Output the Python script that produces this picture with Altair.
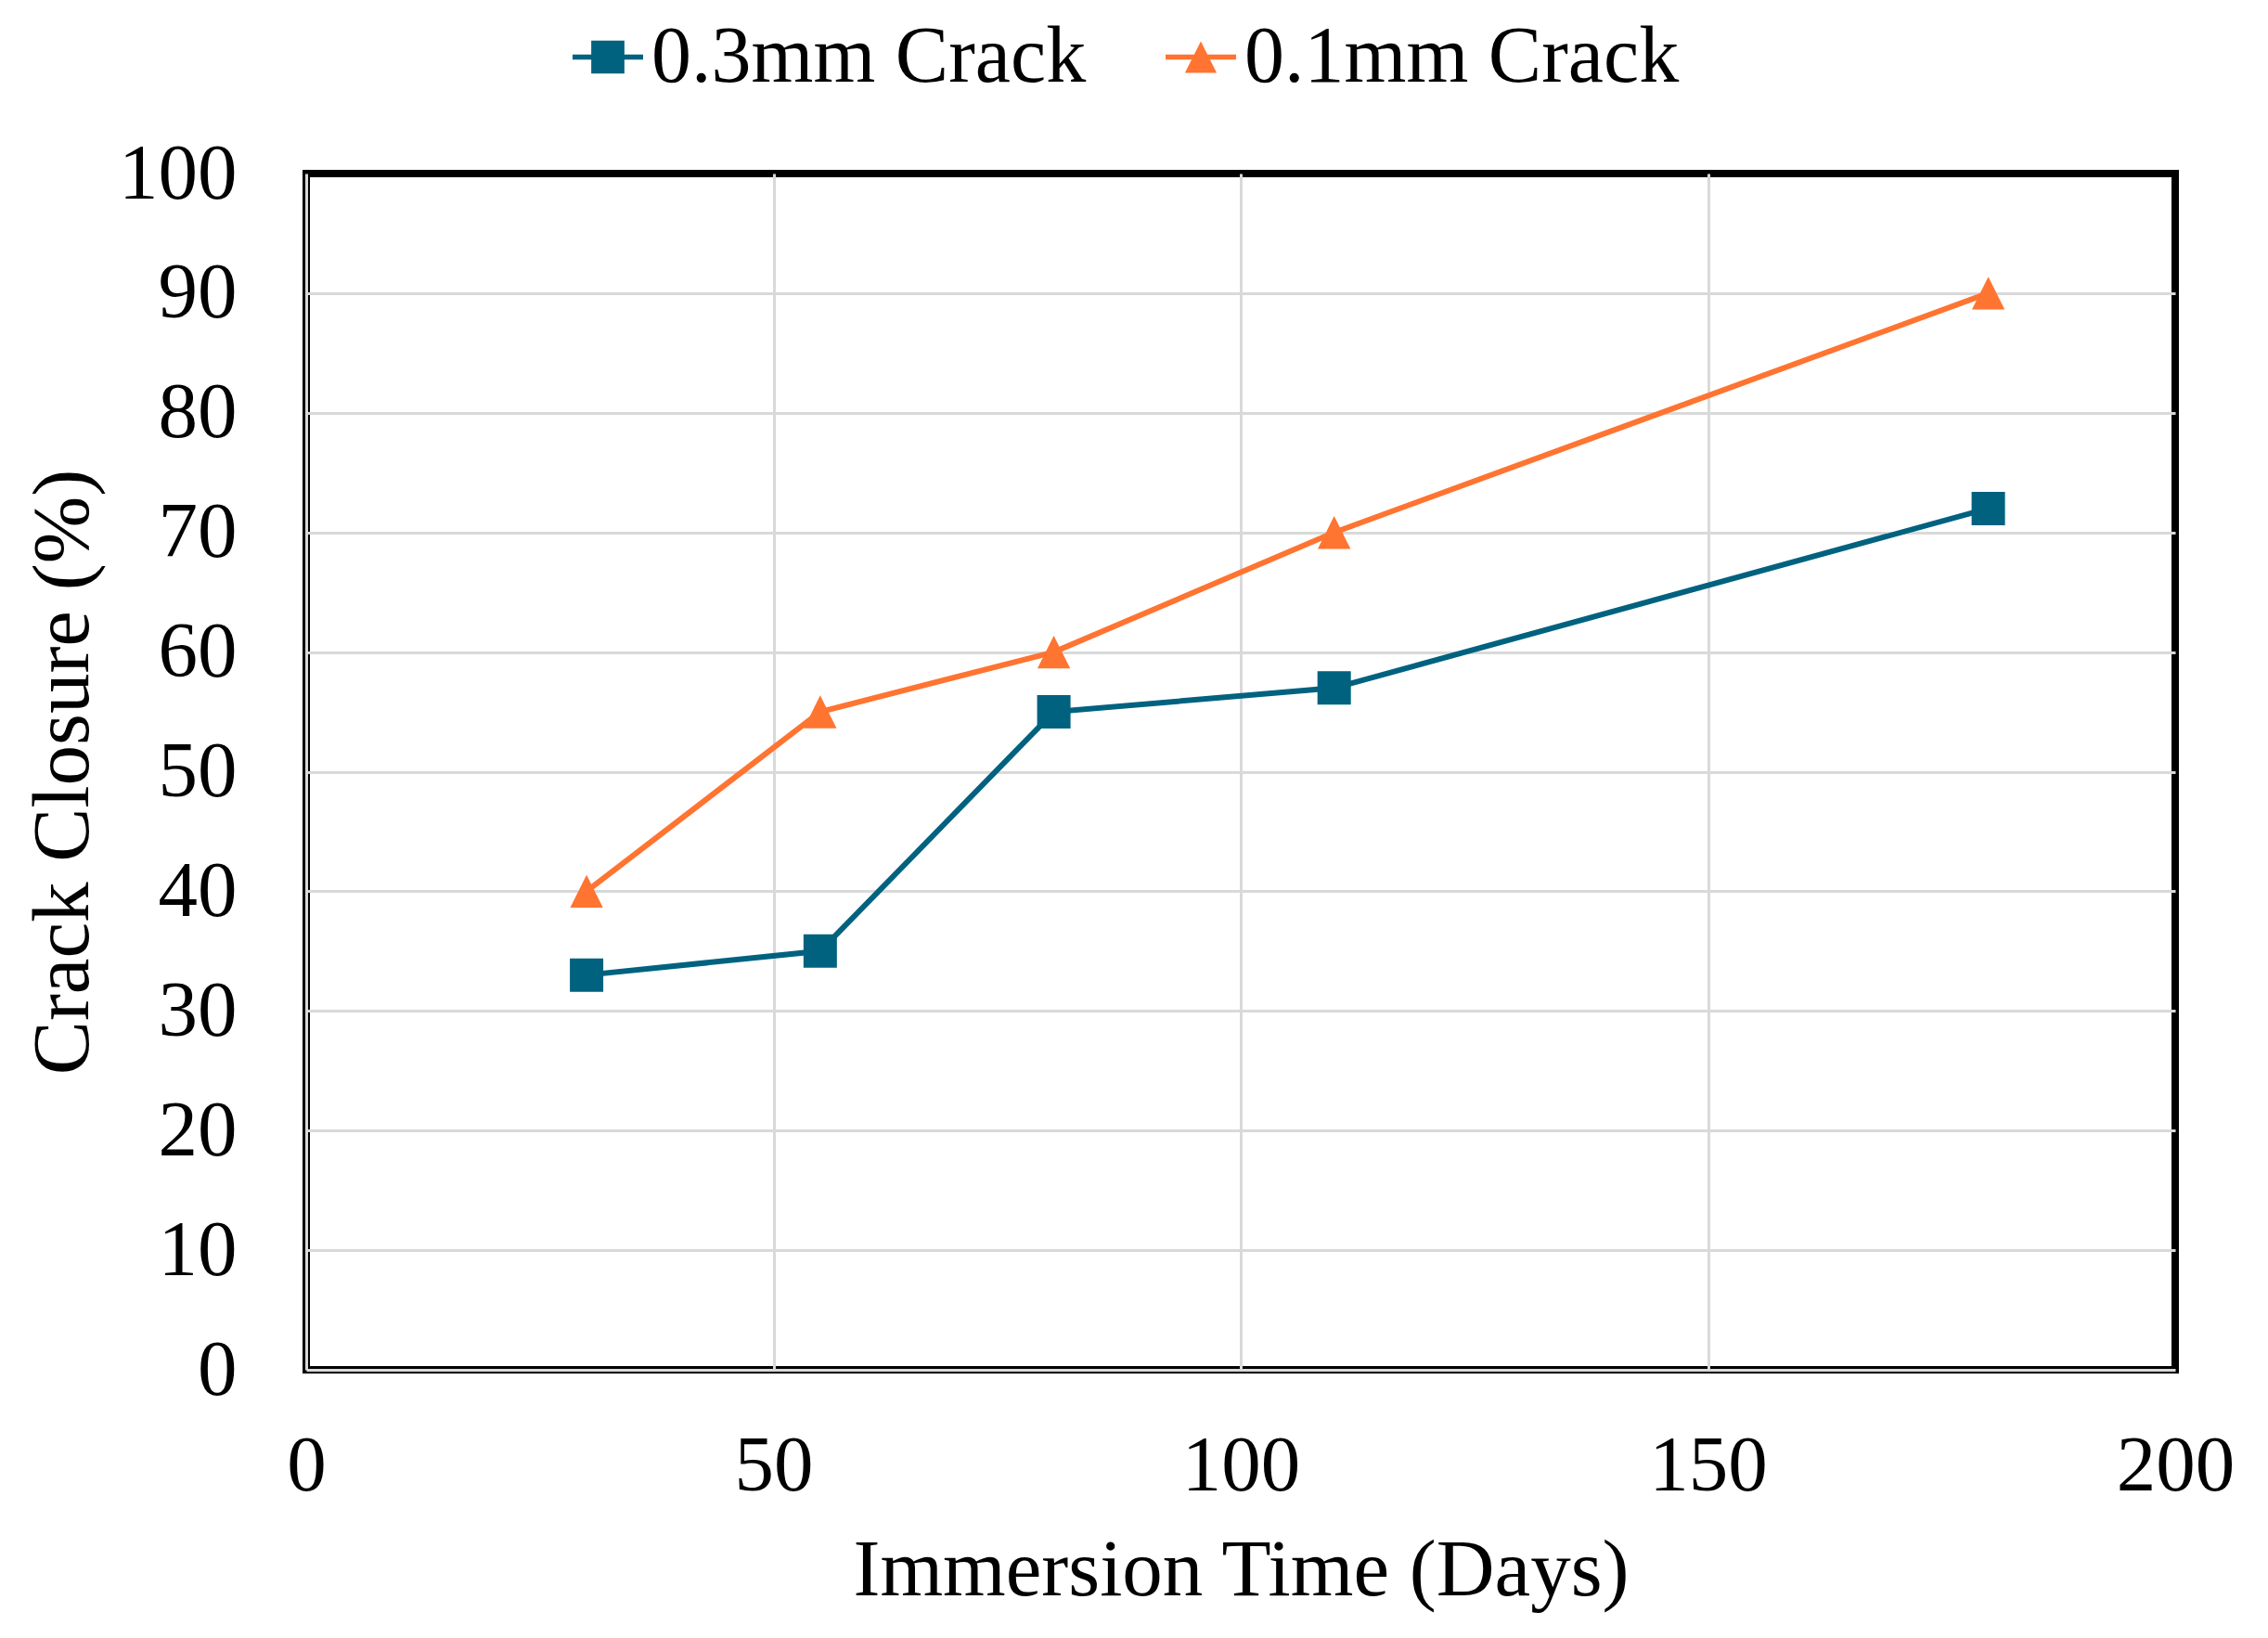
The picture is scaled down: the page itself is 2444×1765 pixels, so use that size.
import altair as alt
import pandas as pd

# ---- data ----
days = [30, 55, 80, 110, 180]
closure_03mm = [33, 35, 55, 57, 72]
closure_01mm = [40, 55, 60, 70, 90]
series_names = ["0.3mm Crack", "0.1mm Crack"]
series_colors = ["#00627F", "#FF7431"]
x_ticks = [0, 50, 100, 150, 200]
y_ticks = [0, 10, 20, 30, 40, 50, 60, 70, 80, 90, 100]

df = pd.DataFrame({
    "Days": days + days,
    "Closure": closure_03mm + closure_01mm,
    "Series": [series_names[0]] * len(days) + [series_names[1]] * len(days),
})

FONT = "Liberation Serif"
FS_TITLE = 87
FS_LABEL = 85
FS_LEGEND = 86

# legend glyphs: short line with marker in the middle
LEG_SQ = "M-1,-0.075H1V0.075H-1Z M-0.47,-0.47H0.47V0.47H-0.47Z"
LEG_TRI = "M-1,-0.075H1V0.075H-1Z M0,-0.45L0.45,0.45H-0.45Z"
TRI = "M0,-1L1,1H-1Z"

x_enc = alt.X(
    "Days:Q",
    scale=alt.Scale(domain=[0, 200], nice=False, zero=False),
    axis=alt.Axis(values=x_ticks, title="Immersion Time (Days)", labelPadding=103,
                  labelBaseline="middle", labelFlush=False,
                  titleBaseline="middle", titleY=216,
                  gridOpacity={"condition": {"test": "datum.value == 200", "value": 0}, "value": 1}),
)
y_enc = alt.Y(
    "Closure:Q",
    scale=alt.Scale(domain=[0, 100], nice=False),
    axis=alt.Axis(values=y_ticks, title="Crack Closure (%)", labelPadding=75,
                  labelFlush=False, titleBaseline="middle", titleX=-262,
                  gridOpacity={"condition": {"test": "datum.value == 100", "value": 0}, "value": 1}),
)

base = alt.Chart(df).encode(x=x_enc, y=y_enc)

layers = []
for name, col in zip(series_names, series_colors):
    layers.append(
        base.transform_filter(alt.datum.Series == name).mark_line(strokeWidth=6, color=col)
    )
layers.append(
    base.transform_filter(alt.datum.Series == series_names[0]).mark_point(
        shape="square", filled=True, size=1296, opacity=1, color=series_colors[0]
    )
)
layers.append(
    base.transform_filter(alt.datum.Series == series_names[1]).mark_point(
        shape=TRI, filled=True, size=1250, opacity=1, color=series_colors[1]
    )
)

legend_layer = base.mark_point(filled=True, opacity=0).encode(
    color=alt.Color("Series:N", scale=alt.Scale(domain=series_names, range=series_colors),
                    sort=series_names, legend=alt.Legend(title=None)),
    shape=alt.Shape("Series:N", scale=alt.Scale(domain=series_names, range=[LEG_SQ, LEG_TRI]),
                    sort=series_names, legend=alt.Legend(title=None)),
)
layers.append(legend_layer)

chart = alt.layer(*layers).properties(
    width=2014,
    height=1289,
    autosize=alt.AutoSizeParams(type="none"),
    padding={"left": 322, "top": 179, "right": 92, "bottom": 270},
).configure_view(
    stroke="black", strokeWidth=8
).configure_axis(
    labelFont=FONT, labelFontSize=FS_LABEL, labelColor="black",
    titleFont=FONT, titleFontSize=FS_TITLE, titleColor="black", titleFontWeight="normal",
    grid=True, gridColor="#D9D9D9", gridWidth=3,
    domain=False, ticks=False, tickSize=0,
).configure_legend(
    orient="none", legendX=282, legendY=-168.5, direction="horizontal",
    labelFont=FONT, labelFontSize=FS_LEGEND, labelColor="black", labelLimit=1000,
    labelOffset=4, columnPadding=80, padding=0,
    symbolSize=5776, symbolOpacity=1, symbolStrokeWidth=0,
)

chart.save("out.html", embed_options={"renderer": "svg", "actions": False})
